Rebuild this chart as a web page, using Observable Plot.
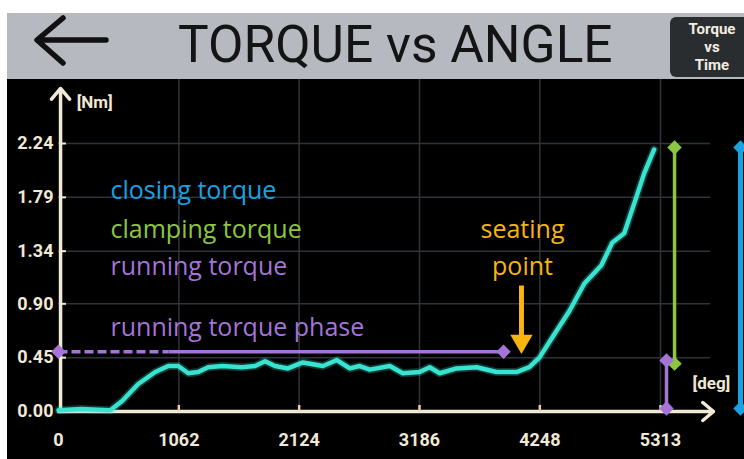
<!DOCTYPE html>
<html><head><meta charset="utf-8">
<script src="https://cdn.jsdelivr.net/npm/d3@7"></script>
<script src="https://cdn.jsdelivr.net/npm/@observablehq/plot@0.6"></script>
<style>
html,body{margin:0;padding:0;background:#fff;width:744px;height:459px;overflow:hidden;}
#header{position:absolute;left:7px;top:13px;width:737px;height:66px;background:#b6bac0;overflow:hidden;}
#back{position:absolute;left:0;top:0;}
#title{position:absolute;left:171px;top:6px;font-family:Roboto,sans-serif;font-size:52px;line-height:52px;color:#141414;white-space:nowrap;transform-origin:0 0;transform:scaleX(0.99);}
#btn{position:absolute;left:663px;top:4px;width:84px;height:60px;background:#2a2d30;border-radius:6px;color:#f2ede2;font-family:Roboto,sans-serif;font-weight:bold;font-size:15px;line-height:18px;text-align:center;padding-top:3px;box-sizing:border-box;}
#chart{position:absolute;left:7px;top:79px;width:737px;height:380px;background:#000;overflow:hidden;}
</style></head>
<body>
<div id="header">
  <svg id="back" width="120" height="66"><path d="M99 27 H31 M56 5 L30 27 L56 50" fill="none" stroke="#111" stroke-width="5.5" stroke-linecap="round" stroke-linejoin="round"/></svg>
  <div id="title">TORQUE vs ANGLE</div>
  <div id="btn">Torque<br>vs<br>Time</div>
</div>
<div id="chart"></div>
<script>
// ---- data ----
const xTicks = [0, 1062, 2124, 3186, 4248, 5313];
const yTicks = [0, 0.45, 0.90, 1.34, 1.79, 2.24];
const angle = [0, 200, 458, 564, 704, 854, 969, 1057, 1145, 1233, 1321, 1444, 1620, 1735, 1823, 1911, 2025, 2157, 2334, 2457, 2571, 2659, 2747, 2924, 3038, 3188, 3276, 3364, 3514, 3690, 3866, 4042, 4156, 4244, 4359, 4509, 4641, 4790, 4887, 4993, 5099, 5169, 5257];
const torque = [0.01, 0.02, 0.01, 0.09, 0.23, 0.33, 0.38, 0.38, 0.32, 0.33, 0.37, 0.38, 0.37, 0.38, 0.42, 0.38, 0.36, 0.41, 0.38, 0.43, 0.36, 0.38, 0.35, 0.38, 0.32, 0.33, 0.37, 0.32, 0.36, 0.37, 0.33, 0.33, 0.37, 0.45, 0.62, 0.84, 1.07, 1.22, 1.41, 1.49, 1.79, 1.99, 2.19];

// annotation labels (data units)
const labelText = ["closing torque", "clamping torque", "running torque", "running torque phase"];
const labelY = [1.772, 1.446, 1.137, 0.635];
const labelX = 459;
const seatingText = ["seating", "point"];
const seatingY = [1.446, 1.137];
const seatingX = 4095;

// measurement brackets (data units)
const runningPhase = {y: 0.5, x0: 0, xDash: 971, x1: 3928};
const clamping = {x: 5437, y0: 0.40, y1: 2.207};
const running = {x: 5366, y0: 0.025, y1: 0.426};
const closing = {x: 6019, y0: 0.025, y1: 2.207};
const seatingArrow = {x: 4086, y0: 1.053, y1: 0.60, head: 0.588};

// ---- styles ----
const GRID = "#2f3439", AXIS = "#efe9d6", TURQ = "#38e3cf";
const BLUE = "#18a2e2", GREEN = "#8cc63f", PURPLE = "#a474d6", ORANGE = "#f7b50e";
const FONT = "'Open Sans', sans-serif";
const TICKFONT = "Roboto, sans-serif";

const curve = angle.map((a, i) => ({a, t: torque[i]}));
const labels = labelText.map((t, i) => ({t, y: labelY[i], c: [BLUE, GREEN, PURPLE, PURPLE][i]}));

const chart = Plot.plot({
  width: 737, height: 380,
  marginLeft: 51, marginRight: 84, marginTop: 64, marginBottom: 48,
  style: {background: "#000", overflow: "visible"},
  x: {domain: [0, 5313], range: [51, 653]},
  y: {domain: [0, 2.24], range: [332, 64]},
  marks: [
    // grid
    Plot.ruleY(yTicks.slice(1), {x1: 0, x2: 5755, stroke: GRID, strokeWidth: 1.5}),
    Plot.ruleX(xTicks.slice(1), {y1: 0, y2: 2.8, stroke: GRID, strokeWidth: 1.5}),
    // axes lines with arrows
    Plot.arrow([{x1: 0, y1: 0, x2: 5781, y2: 0}], {x1: "x1", y1: "y1", x2: "x2", y2: "y2", stroke: AXIS, strokeWidth: 3.5, headAngle: 80, headLength: 6}),
    Plot.arrow([{x1: 18, y1: 0, x2: 18, y2: 2.70}], {x1: "x1", y1: "y1", x2: "x2", y2: "y2", stroke: AXIS, strokeWidth: 3.5, headAngle: 80, headLength: 6}),
    // tick stubs
    Plot.ruleY(yTicks.slice(1), {x1: 18, x2: 70, stroke: AXIS, strokeWidth: 2}),
    Plot.ruleX(xTicks.slice(1), {y1: 0, y2: 0.05, stroke: "#f2c9a8", strokeWidth: 2.5}),
    // tick labels
    Plot.axisY(yTicks, {anchor: "left", tickSize: 0, tickPadding: 5, tickFormat: d => d.toFixed(2), color: AXIS, fontSize: 18, fontWeight: "bold", fontFamily: TICKFONT, label: null}),
    Plot.axisX(xTicks, {anchor: "bottom", tickSize: 0, tickPadding: 22, tickFormat: d => String(d), color: AXIS, fontSize: 18, fontWeight: "bold", fontFamily: TICKFONT, label: null}),
    // unit labels
    Plot.text(["[Nm]"], {x: 160, y: 2.58, text: d => d, textAnchor: "start", fill: AXIS, fontSize: 17, fontWeight: "bold", fontFamily: TICKFONT}),
    Plot.text(["[deg]"], {x: 5762, y: 0.235, text: d => d, textAnchor: "middle", fill: AXIS, fontSize: 17, fontWeight: "bold", fontFamily: TICKFONT}),
    // curve with glow
    Plot.line(curve, {x: "a", y: "t", stroke: TURQ, strokeWidth: 8, strokeOpacity: 0.25, strokeLinejoin: "round"}),
    Plot.line(curve, {x: "a", y: "t", stroke: TURQ, strokeWidth: 4.5, strokeLinejoin: "round", strokeLinecap: "round"}),
    // running torque phase
    Plot.link([runningPhase], {x1: "x0", x2: "xDash", y1: "y", y2: "y", stroke: PURPLE, strokeWidth: 3.5, strokeDasharray: "9,4"}),
    Plot.link([runningPhase], {x1: "xDash", x2: "x1", y1: "y", y2: "y", stroke: PURPLE, strokeWidth: 3.5}),
    Plot.dot([runningPhase.x0, runningPhase.x1], {x: d => d, y: runningPhase.y, symbol: "diamond2", r: 6.5, fill: PURPLE, stroke: null}),
    // clamping torque
    Plot.link([clamping], {x1: "x", x2: "x", y1: "y0", y2: "y1", stroke: GREEN, strokeWidth: 3.5}),
    Plot.dot([clamping.y0, clamping.y1], {x: clamping.x, y: d => d, symbol: "diamond2", r: 6.5, fill: GREEN, stroke: null}),
    // running torque
    Plot.link([running], {x1: "x", x2: "x", y1: "y0", y2: "y1", stroke: PURPLE, strokeWidth: 3.5}),
    Plot.dot([running.y0, running.y1], {x: running.x, y: d => d, symbol: "diamond2", r: 6.5, fill: PURPLE, stroke: null}),
    // closing torque
    Plot.link([closing], {x1: "x", x2: "x", y1: "y0", y2: "y1", stroke: BLUE, strokeWidth: 5}),
    Plot.dot([closing.y0, closing.y1], {x: closing.x, y: d => d, symbol: "diamond2", r: 6.5, fill: BLUE, stroke: null}),
    // seating point arrow
    Plot.link([seatingArrow], {x1: "x", x2: "x", y1: "y0", y2: "y1", stroke: ORANGE, strokeWidth: 5}),
    Plot.dot([seatingArrow], {x: "x", y: "head", symbol: "triangle", rotate: 180, r: 8.3, fill: ORANGE, stroke: null}),
    // labels
    Plot.text(labels, {x: labelX, y: "y", text: "t", fill: "c", textAnchor: "start", lineAnchor: "bottom", fontSize: 25, fontFamily: FONT}),
    Plot.text(seatingText, {x: seatingX, y: (d, i) => seatingY[i], text: d => d, fill: ORANGE, textAnchor: "middle", lineAnchor: "bottom", fontSize: 25, fontFamily: FONT})
  ]
});
document.getElementById("chart").appendChild(chart);
</script>
</body></html>
